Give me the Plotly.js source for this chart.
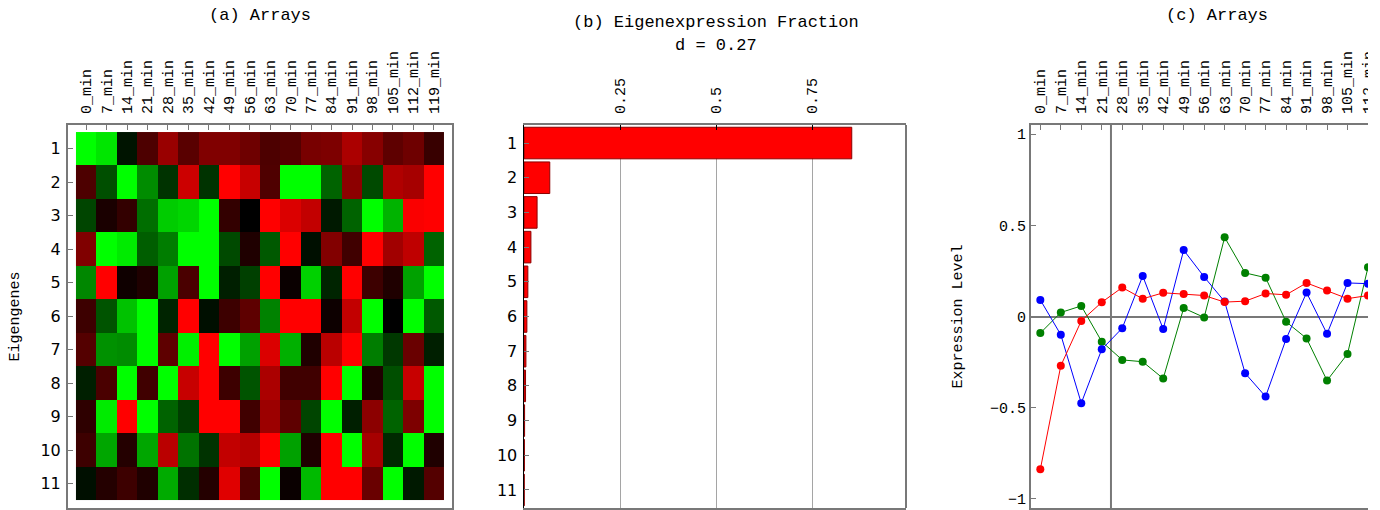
<!DOCTYPE html>
<html>
<head>
<meta charset="utf-8">
<script src="https://cdn.plot.ly/plotly-3.0.1.min.js"></script>
<style>
  html, body { margin: 0; padding: 0; background: #fff; }
  #chart { width: 1380px; height: 510px; }
</style>
</head>
<body>
<div id="chart"></div>
<script>
// Time points of the arrays
const timeLabels = ['0_min', '7_min', '14_min', '21_min', '28_min', '35_min', '42_min',
  '49_min', '56_min', '63_min', '70_min', '77_min', '84_min', '91_min', '98_min',
  '105_min', '112_min', '119_min'];

// Eigengene numbers
const eigengeneIds = [1, 2, 3, 4, 5, 6, 7, 8, 9, 10, 11];

// Eigengene expression across arrays (green = negative, red = positive), one row per eigengene
const eigengeneRow1 = [-1, -0.9, -0.08, 0.3, 0.6, 0.35, 0.5, 0.5, 0.43, 0.3, 0.33, 0.47, 0.49, 0.67, 0.53, 0.37, 0.43, 0.22];
const eigengeneRow2 = [0.3, -0.31, -1, -0.55, -0.2, 0.8, -0.2, 1, 0.78, 0.31, -1, -1, -0.39, 0.55, -0.29, 0.69, 0.65, 1];
const eigengeneRow3 = [-0.27, 0.1, 0.2, -0.43, -0.8, -0.84, -1, 0.2, 0, 1, 0.86, 0.76, -0.1, -0.39, -1, -0.7, 0.98, 1];
const eigengeneRow4 = [0.5, -1, -0.92, -0.37, -0.49, -1, -1, -0.29, 0.12, -0.35, 1, -0.06, 0.51, 0.25, 1, 0.63, 0.75, -0.39];
const eigengeneRow5 = [-0.53, 1, 0.06, 0.12, -0.63, 0.29, -1, -0.12, -0.25, 1, 0.04, -0.82, -0.14, 1, 0.24, 0.12, -0.63, -1];
const eigengeneRow6 = [0.24, -0.33, -0.76, -1, -0.14, 1, -0.06, 0.24, 0.37, -0.51, 1, 1, 0.05, 0.76, -1, 0, -1, -0.35];
const eigengeneRow7 = [0.33, -0.57, -0.55, -1, 0.37, -0.94, 1, -1, -0.63, 0.86, -0.69, 0.12, 0.73, 1, -0.49, -0.22, 0.41, -0.12];
const eigengeneRow8 = [-0.12, 0.29, -1, 0.25, -1, 0.78, 1, 0.24, -0.33, 0.67, 0.25, 0.25, 1, -1, 0.12, -0.31, 0.78, -1];
const eigengeneRow9 = [0.18, -0.92, 1, -1, -0.39, -0.24, 1, 1, 0.25, 0.61, 0.37, -0.27, -1, -0.12, 0.55, -0.39, 0.49, -1];
const eigengeneRow10 = [0.24, -0.65, 0.14, -0.65, 0.73, -0.45, -0.2, 0.76, 0.71, 1, -0.63, 0.12, 1, -1, 0.65, -0.16, -1, 0.12];
const eigengeneRow11 = [-0.06, 0.14, 0.24, 0.12, -0.67, -0.18, 0.14, 0.88, 0.31, -1, 0.04, -0.73, 1, 1, 0.41, -1, -0.1, 0.33];

// Fraction of the overall expression captured by each eigengene
const eigenFractions = [0.852, 0.067, 0.034, 0.018, 0.010, 0.0075, 0.005, 0.004, 0.0015, 0.001, 0.0005];

// Expression level of the first three eigengenes
const eigengene1Level = [-0.838, -0.27, -0.024, 0.078, 0.159, 0.097, 0.13, 0.124, 0.115, 0.079, 0.084, 0.126, 0.119, 0.184, 0.142, 0.098, 0.115, 0.057];
const eigengene2Level = [0.091, -0.10, -0.475, -0.18, -0.064, 0.222, -0.069, 0.364, 0.217, 0.082, -0.311, -0.439, -0.124, 0.131, -0.095, 0.184, 0.18, 0.30];
const eigengene3Level = [-0.091, 0.022, 0.058, -0.138, -0.238, -0.248, -0.34, 0.046, -0.005, 0.434, 0.239, 0.213, -0.029, -0.12, -0.351, -0.205, 0.27, 0.30];

const heatRows = [eigengeneRow1, eigengeneRow2, eigengeneRow3, eigengeneRow4, eigengeneRow5,
  eigengeneRow6, eigengeneRow7, eigengeneRow8, eigengeneRow9, eigengeneRow10, eigengeneRow11];

// Shannon entropy of the eigenexpression fractions, normalised to [0, 1]
const total = eigenFractions.reduce((a, b) => a + b, 0);
const entropy = -eigenFractions.reduce((s, f) => {
  const p = f / total;
  return s + (p > 0 ? p * Math.log(p) : 0);
}, 0) / Math.log(eigenFractions.length);

const MONO = "'Courier New', 'Liberation Mono', monospace";
const SANS = "'DejaVu Sans', 'Liberation Sans', sans-serif";
const FRAME = 'rgb(120,120,120)';
const W = 1380, H = 510;
const px = v => v / W;
const py = v => 1 - v / H;

const yDomain = [py(508), py(125)];
const domA = [px(68), px(452)];
const domB = [px(524), px(906)];
const domC = [px(1031), px(1368)];

const topTimeAxis = {
  type: 'category', side: 'top', tickangle: -90,
  ticks: 'inside', ticklen: 5, tickcolor: FRAME, tickwidth: 1,
  showline: true, mirror: true, linecolor: FRAME, linewidth: 2,
  showgrid: false, zeroline: false, fixedrange: true,
  tickfont: { family: MONO, size: 15, color: '#000' }
};

const traces = [
  {
    type: 'heatmap', x: timeLabels, y: eigengeneIds, z: heatRows,
    zmin: -1, zmax: 1, showscale: false, hoverinfo: 'skip',
    colorscale: [[0, 'rgb(0,255,0)'], [0.5, 'rgb(0,0,0)'], [1, 'rgb(255,0,0)']],
    xaxis: 'x', yaxis: 'y'
  },
  {
    type: 'bar', orientation: 'h', x: eigenFractions, y: eigengeneIds,
    marker: { color: 'rgb(255,0,0)', line: { color: 'rgb(140,0,0)', width: 1 } },
    hoverinfo: 'skip', xaxis: 'x2', yaxis: 'y2'
  },
  {
    type: 'scatter', mode: 'lines+markers', x: timeLabels, y: eigengene3Level,
    line: { color: 'rgb(0,128,0)', width: 1 }, marker: { color: 'rgb(0,128,0)', size: 8 },
    hoverinfo: 'skip', xaxis: 'x3', yaxis: 'y3'
  },
  {
    type: 'scatter', mode: 'lines+markers', x: timeLabels, y: eigengene2Level,
    line: { color: 'rgb(0,0,255)', width: 1 }, marker: { color: 'rgb(0,0,255)', size: 8 },
    hoverinfo: 'skip', xaxis: 'x3', yaxis: 'y3'
  },
  {
    type: 'scatter', mode: 'lines+markers', x: timeLabels, y: eigengene1Level,
    line: { color: 'rgb(255,0,0)', width: 1 }, marker: { color: 'rgb(255,0,0)', size: 8 },
    hoverinfo: 'skip', xaxis: 'x3', yaxis: 'y3'
  }
];

const layout = {
  width: W, height: H,
  margin: { l: 0, r: 0, t: 0, b: 0, pad: 0 },
  paper_bgcolor: '#fff', plot_bgcolor: '#fff',
  showlegend: false, bargap: 0.09,
  font: { family: MONO, size: 15, color: '#000' },

  xaxis: Object.assign({}, topTimeAxis, { domain: domA, range: [-0.89, 17.89], anchor: 'y', ticklabelstandoff: 6 }),
  yaxis: {
    domain: yDomain, anchor: 'x', range: [11.73, 0.29],
    tickvals: eigengeneIds, ticks: 'inside', ticklen: 5, tickcolor: FRAME,
    showline: true, mirror: true, linecolor: FRAME, linewidth: 2,
    showgrid: false, zeroline: false, fixedrange: true, ticklabelstandoff: 2,
    tickfont: { family: SANS, size: 16, color: '#000' },
    title: { text: 'Eigengenes', font: { family: MONO, size: 15 }, standoff: 17 }
  },

  xaxis2: {
    domain: domB, anchor: 'y2', side: 'top', range: [0, 0.993],
    tickvals: [0.25, 0.5, 0.75], ticktext: ['0.25', '0.5', '0.75'], tickangle: -90,
    ticks: 'inside', ticklen: 5, tickcolor: '#000',
    showline: true, mirror: true, linecolor: FRAME, linewidth: 2,
    showgrid: true, gridcolor: 'rgb(165,165,165)', gridwidth: 1,
    zeroline: false, fixedrange: true, ticklabelstandoff: 6,
    tickfont: { family: MONO, size: 15, color: '#000' }
  },
  yaxis2: {
    domain: yDomain, anchor: 'x2', range: [11.52, 0.48],
    tickvals: eigengeneIds, ticks: 'inside', ticklen: 5, tickcolor: FRAME,
    showline: true, mirror: false, linecolor: '#000', linewidth: 1.5,
    showgrid: false, zeroline: false, fixedrange: true, ticklabelstandoff: 2,
    tickfont: { family: SANS, size: 16, color: '#000' }
  },

  xaxis3: Object.assign({}, topTimeAxis, { domain: domC, range: [-0.455, 16.0], anchor: 'y3', ticklabelstandoff: 6 }),
  yaxis3: {
    domain: yDomain, anchor: 'x3', range: [-1.05, 1.05],
    tickvals: [-1, -0.5, 0, 0.5, 1], ticks: 'inside', ticklen: 5, tickcolor: FRAME,
    showline: true, mirror: false, linecolor: FRAME, linewidth: 2,
    showgrid: false, zeroline: true, zerolinecolor: FRAME, zerolinewidth: 2,
    fixedrange: true,
    tickfont: { family: MONO, size: 15, color: '#000' },
    title: { text: 'Expression Level', font: { family: MONO, size: 15 }, standoff: 24 }
  },

  shapes: [
    // right edge of the fraction panel
    { type: 'line', xref: 'x2 domain', yref: 'y2 domain', x0: 1, x1: 1, y0: 0, y1: 1,
      line: { color: FRAME, width: 2 } },
    // vertical reference line in the expression panel
    { type: 'line', xref: 'x3', yref: 'y3 domain', x0: 3.45, x1: 3.45, y0: 0, y1: 1,
      line: { color: FRAME, width: 2 }, layer: 'below' },
    // page edge past the last visible array
    { type: 'rect', xref: 'paper', yref: 'paper', x0: px(1368), x1: 1.01, y0: -0.01, y1: 1.01,
      fillcolor: '#fff', line: { width: 0 }, layer: 'above' }
  ],

  annotations: [
    { text: '(a) Arrays', xref: 'paper', yref: 'paper', x: px(260), y: py(15),
      xanchor: 'center', yanchor: 'middle', showarrow: false, font: { family: MONO, size: 17 } },
    { text: '(b) Eigenexpression Fraction', xref: 'paper', yref: 'paper', x: px(716), y: py(23),
      xanchor: 'center', yanchor: 'middle', showarrow: false, font: { family: MONO, size: 17 } },
    { text: 'd = ' + entropy.toFixed(2), xref: 'paper', yref: 'paper', x: px(716), y: py(45),
      xanchor: 'center', yanchor: 'middle', showarrow: false, font: { family: MONO, size: 17 } },
    { text: '(c) Arrays', xref: 'paper', yref: 'paper', x: px(1217), y: py(15),
      xanchor: 'center', yanchor: 'middle', showarrow: false, font: { family: MONO, size: 17 } }
  ]
};

Plotly.newPlot('chart', traces, layout, { staticPlot: true, displayModeBar: false });
</script>
</body>
</html>
